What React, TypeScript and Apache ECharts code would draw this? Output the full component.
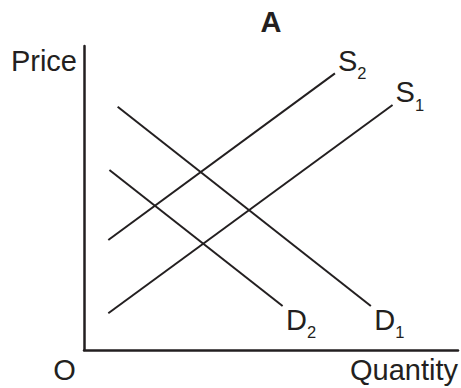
import { useEffect, useRef } from "react";
import * as echarts from "echarts";

// ---- data ----
const xExtent = [0, 100];
const yExtent = [0, 100];
const chartTitle = "A";
const xAxisTitle = "Quantity";
const yAxisTitle = "Price";
const originLabel = "O";

const curveLetters = ["S", "S", "D", "D"];
const curveSubs = ["2", "1", "1", "2"];
const s2Points = [
  [6.5, 36.2],
  [67.1, 91.0],
];
const s1Points = [
  [6.5, 12.1],
  [82.5, 80.6],
];
const d1Points = [
  [9.0, 80.0],
  [76.7, 14.5],
];
const d2Points = [
  [6.8, 59.2],
  [53.1, 14.5],
];
const curvePoints = [s2Points, s1Points, d1Points, d2Points];

const INK = "#231f20";
const FAMILY = '"Liberation Sans", Arial, Helvetica, sans-serif';
const FS = 29;
const SUB = 16.5;

function measure(text: string, size: number, weight = "normal") {
  const c = document.createElement("canvas").getContext("2d");
  if (!c) return text.length * size * 0.6;
  c.font = `${weight} ${size}px ${FAMILY}`;
  return c.measureText(text).width;
}

function txt(text: string, x: number, y: number, size: number, align: string, weight = "normal") {
  return {
    type: "text",
    silent: true,
    style: {
      text,
      x,
      y,
      fontSize: size,
      fontFamily: FAMILY,
      fontWeight: weight,
      fill: INK,
      textAlign: align,
      textVerticalAlign: "middle",
    },
  };
}

export default function App() {
  const ref = useRef<HTMLDivElement>(null);
  useEffect(() => {
    if (!ref.current) return;
    const chart = echarts.init(ref.current, null, { renderer: "svg" });
    const axisLine = { show: true, lineStyle: { color: INK, width: 2.5 } };
    chart.setOption({
      animation: false,
      grid: { left: 84, right: 3, top: 46, bottom: 38 },
      xAxis: {
        type: "value",
        min: xExtent[0],
        max: xExtent[1],
        axisLine: { ...axisLine, onZero: false },
        axisTick: { show: false },
        axisLabel: { show: false },
        splitLine: { show: false },
        name: xAxisTitle,
        nameLocation: "end",
        nameGap: 0,
        nameTextStyle: {
          color: INK,
          fontFamily: FAMILY,
          fontSize: FS,
          lineHeight: FS,
          align: "right",
          verticalAlign: "top",
          padding: [5, 0, 0, 0],
        },
      },
      yAxis: {
        type: "value",
        min: yExtent[0],
        max: yExtent[1],
        axisLine: { ...axisLine, onZero: false },
        axisTick: { show: false },
        axisLabel: { show: false },
        splitLine: { show: false },
        name: yAxisTitle,
        nameLocation: "end",
        nameGap: 0,
        nameTextStyle: {
          color: INK,
          fontFamily: FAMILY,
          fontSize: FS,
          lineHeight: FS,
          align: "right",
          verticalAlign: "top",
          padding: [0, 7, 0, 0],
        },
      },
      series: curvePoints.map((pts, i) => ({
        type: "line",
        name: curveLetters[i] + curveSubs[i],
        data: pts,
        showSymbol: false,
        symbol: "none",
        lineStyle: { color: INK, width: 2, cap: "butt" },
        silent: true,
      })),
    });

    const gfx: any[] = [];
    curvePoints.forEach((pts, i) => {
      const end = chart.convertToPixel({ gridIndex: 0 }, pts[1]) as number[];
      const supply = curveLetters[i] === "S";
      const bx = end[0] + (supply ? 3 : 3.5);
      const base = end[1] + (supply ? -2.5 : 24);
      const adv = measure(curveLetters[i], FS);
      gfx.push(txt(curveLetters[i], bx, base - 0.3465 * FS, FS, "left"));
      gfx.push(
        txt(curveSubs[i], bx + adv, base + (supply ? 8 : 7.5) - 0.3465 * SUB, SUB, "left")
      );
    });
    const top = chart.convertToPixel({ gridIndex: 0 }, [
      (xExtent[0] + xExtent[1]) / 2,
      yExtent[1],
    ]) as number[];
    const origin = chart.convertToPixel({ gridIndex: 0 }, [
      xExtent[0],
      yExtent[0],
    ]) as number[];
    gfx.push(txt(chartTitle, top[0], top[1] - 23.7, FS, "center", "bold"));
    gfx.push(txt(originLabel, origin[0] - 19.5, origin[1] + 20, FS, "center"));
    chart.setOption({ graphic: gfx });
    return () => chart.dispose();
  }, []);
  return (
    <div
      ref={ref}
      style={{
        position: "fixed",
        left: 0,
        top: 0,
        width: 461,
        height: 388,
        background: "#fff",
      }}
    />
  );
}
